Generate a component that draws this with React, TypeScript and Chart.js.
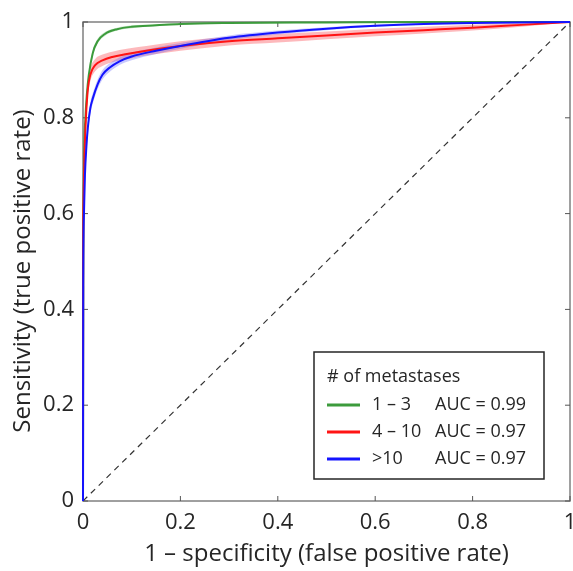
import React, { useEffect, useRef } from "react";
import { Chart, registerables } from "chart.js";

Chart.register(...registerables);

const xTicks = [0, 0.2, 0.4, 0.6, 0.8, 1];
const yTicks = [0, 0.2, 0.4, 0.6, 0.8, 1];

const xTitle = "1 \u2013 specificity (false positive rate)";
const yTitle = "Sensitivity (true positive rate)";

const groupLabels = ["1 \u2013 3", "4 \u2013 10", ">10"];
const aucLabels = ["AUC = 0.99", "AUC = 0.97", "AUC = 0.97"];
const legendTitle = "# of metastases";

const greenFpr = [0, 0.0005, 0.002, 0.005, 0.008, 0.012, 0.02, 0.03, 0.045, 0.07, 0.1, 0.15, 0.2, 0.3, 0.5, 0.7, 1];
const greenTpr = [0, 0.45, 0.7, 0.8, 0.85, 0.89, 0.935, 0.96, 0.975, 0.985, 0.99, 0.993, 0.996, 0.998, 0.999, 1, 1];
const greenBand = [0, 0.01, 0.01, 0.008, 0.008, 0.007, 0.006, 0.005, 0.004, 0.003, 0.003, 0.002, 0.002, 0.001, 0.001, 0, 0];

const redFpr = [0, 0.0003, 0.001, 0.003, 0.006, 0.01, 0.015, 0.025, 0.04, 0.06, 0.09, 0.13, 0.2, 0.3, 0.4, 0.5, 0.6, 0.7, 0.8, 0.9, 1];
const redTpr = [0, 0.5, 0.62, 0.72, 0.8, 0.86, 0.89, 0.91, 0.92, 0.927, 0.933, 0.94, 0.95, 0.96, 0.966, 0.972, 0.978, 0.983, 0.988, 0.994, 1];
const redBand = [0, 0.01, 0.012, 0.014, 0.015, 0.015, 0.014, 0.013, 0.012, 0.011, 0.011, 0.01, 0.01, 0.009, 0.009, 0.008, 0.008, 0.007, 0.006, 0.004, 0];

const blueFpr = [0, 0.0005, 0.002, 0.004, 0.007, 0.01, 0.015, 0.02, 0.03, 0.04, 0.055, 0.075, 0.1, 0.15, 0.2, 0.3, 0.4, 0.5, 0.6, 0.7, 0.8, 1];
const blueTpr = [0, 0.45, 0.6, 0.68, 0.74, 0.78, 0.82, 0.84, 0.87, 0.89, 0.905, 0.918, 0.928, 0.94, 0.95, 0.967, 0.978, 0.986, 0.992, 0.996, 0.998, 1];
const blueBand = [0, 0.01, 0.012, 0.013, 0.013, 0.012, 0.012, 0.011, 0.01, 0.01, 0.009, 0.008, 0.008, 0.007, 0.006, 0.005, 0.004, 0.003, 0.002, 0.002, 0.001, 0];

const diagX = [0, 1];
const diagY = [0, 1];

const FONT = "'Open Sans', 'Noto Sans', sans-serif";

function pts(xs: number[], ys: number[]) {
  return xs.map((x, i) => ({ x, y: ys[i] }));
}

function bandSets(xs: number[], ys: number[], hw: number[], fillColor: string, order: number) {
  const lower = xs.map((x, i) => ({ x, y: Math.max(0, ys[i] - hw[i]) }));
  const upper = xs.map((x, i) => ({ x, y: Math.min(1, ys[i] + hw[i]) }));
  return [
    { data: lower, order, borderWidth: 0, pointRadius: 0, fill: false, cubicInterpolationMode: "monotone", borderColor: "rgba(0,0,0,0)" },
    { data: upper, order, borderWidth: 0, pointRadius: 0, fill: "-1", backgroundColor: fillColor, cubicInterpolationMode: "monotone", borderColor: "rgba(0,0,0,0)" },
  ];
}

const series = [
  { fpr: greenFpr, tpr: greenTpr, band: greenBand, color: "rgb(60,155,60)", fill: "rgba(60,170,60,0.28)" },
  { fpr: redFpr, tpr: redTpr, band: redBand, color: "rgb(255,20,20)", fill: "rgba(250,70,80,0.38)" },
  { fpr: blueFpr, tpr: blueTpr, band: blueBand, color: "rgb(20,20,255)", fill: "rgba(90,90,250,0.32)" },
];

const boxPlugin = {
  id: "boxTicks",
  beforeDatasetsDraw(chart: any) {
    const { ctx, chartArea } = chart;
    const { left, right, top, bottom } = chartArea;
    const xs = chart.scales.x;
    const ys = chart.scales.y;
    ctx.save();
    ctx.strokeStyle = "#808080";
    ctx.lineWidth = 1.5;
    ctx.strokeRect(left, top, right - left, bottom - top);
    ctx.lineWidth = 1;
    ctx.strokeStyle = "#555";
    const tl = 5;
    xTicks.forEach((v) => {
      const px = xs.getPixelForValue(v);
      ctx.beginPath();
      ctx.moveTo(px, bottom);
      ctx.lineTo(px, bottom - tl);
      ctx.moveTo(px, top);
      ctx.lineTo(px, top + tl);
      ctx.stroke();
    });
    yTicks.forEach((v) => {
      const py = ys.getPixelForValue(v);
      ctx.beginPath();
      ctx.moveTo(left, py);
      ctx.lineTo(left + tl, py);
      ctx.moveTo(right, py);
      ctx.lineTo(right - tl, py);
      ctx.stroke();
    });
    ctx.restore();
  },
  afterDraw(chart: any) {
    const { ctx } = chart;
    // y-axis title
    ctx.save();
    ctx.translate(23, 271);
    ctx.rotate(-Math.PI / 2);
    ctx.font = `24px ${FONT}`;
    ctx.fillStyle = "#262626";
    ctx.textAlign = "center";
    ctx.textBaseline = "middle";
    ctx.fillText(yTitle, 0, 0);
    ctx.restore();
    // legend
    const x0 = 314, y0 = 352, w = 230, h = 127;
    ctx.save();
    ctx.fillStyle = "#fff";
    ctx.fillRect(x0, y0, w, h);
    ctx.strokeStyle = "#262626";
    ctx.lineWidth = 1.5;
    ctx.strokeRect(x0, y0, w, h);
    ctx.font = `18px ${FONT}`;
    ctx.fillStyle = "#262626";
    ctx.textBaseline = "middle";
    ctx.textAlign = "left";
    ctx.fillText(legendTitle, 327, 377);
    const rowsY = [405, 432, 459];
    series.forEach((s, i) => {
      ctx.strokeStyle = s.color;
      ctx.lineWidth = 3;
      ctx.beginPath();
      ctx.moveTo(327, rowsY[i]);
      ctx.lineTo(360, rowsY[i]);
      ctx.stroke();
      ctx.fillText(groupLabels[i], 372, rowsY[i]);
      ctx.fillText(aucLabels[i], 435, rowsY[i]);
    });
    ctx.restore();
  },
};

export default function App() {
  const ref = useRef<HTMLCanvasElement>(null);
  useEffect(() => {
    if (!ref.current) return;
    const datasets: any[] = [];
    series.forEach((s, i) => {
      datasets.push(...bandSets(s.fpr, s.tpr, s.band, s.fill, 10 - i));
    });
    datasets.push({
      data: pts(diagX, diagY),
      order: 5,
      borderColor: "#333",
      borderWidth: 1.2,
      borderDash: [6, 5],
      pointRadius: 0,
      fill: false,
    });
    series.forEach((s, i) => {
      datasets.push({
        data: pts(s.fpr, s.tpr),
        order: 3 - i,
        borderColor: s.color,
        borderWidth: 2,
        pointRadius: 0,
        fill: false,
        clip: 3,
        cubicInterpolationMode: "monotone",
      });
    });
    const chart = new Chart(ref.current, {
      type: "line",
      data: { datasets },
      plugins: [boxPlugin],
      options: {
        animation: false,
        responsive: true,
        maintainAspectRatio: false,
        layout: { padding: { top: 22, right: 3, left: 0, bottom: 0 } },
        plugins: { legend: { display: false }, tooltip: { enabled: false } },
        scales: {
          x: {
            type: "linear",
            min: 0,
            max: 1,
            afterFit: (s: any) => { s.height = 70; s.paddingLeft = 0; s.paddingRight = 0; },
            afterBuildTicks: (s: any) => { s.ticks = xTicks.map((v) => ({ value: v })); },
            grid: { display: false, drawTicks: false },
            border: { display: false },
            ticks: { color: "#262626", font: { family: FONT, size: 22 }, padding: 9, maxRotation: 0, callback: (v: any) => String(v) },
            title: { display: true, text: xTitle, color: "#262626", font: { family: FONT, size: 24 }, padding: { top: 0, bottom: 2 } },
          },
          y: {
            type: "linear",
            min: 0,
            max: 1,
            afterFit: (s: any) => { s.width = 83; s.paddingTop = 0; s.paddingBottom = 0; },
            afterBuildTicks: (s: any) => { s.ticks = yTicks.map((v) => ({ value: v })); },
            grid: { display: false, drawTicks: false },
            border: { display: false },
            ticks: { color: "#262626", font: { family: FONT, size: 22 }, padding: 9, callback: (v: any) => String(v) },
            title: { display: false },
          },
        },
      } as any,
    });
    return () => chart.destroy();
  }, []);
  return (
    <div style={{ position: "absolute", left: 0, top: 0, width: 573, height: 571, background: "#fff" }}>
      <canvas ref={ref} />
    </div>
  );
}
